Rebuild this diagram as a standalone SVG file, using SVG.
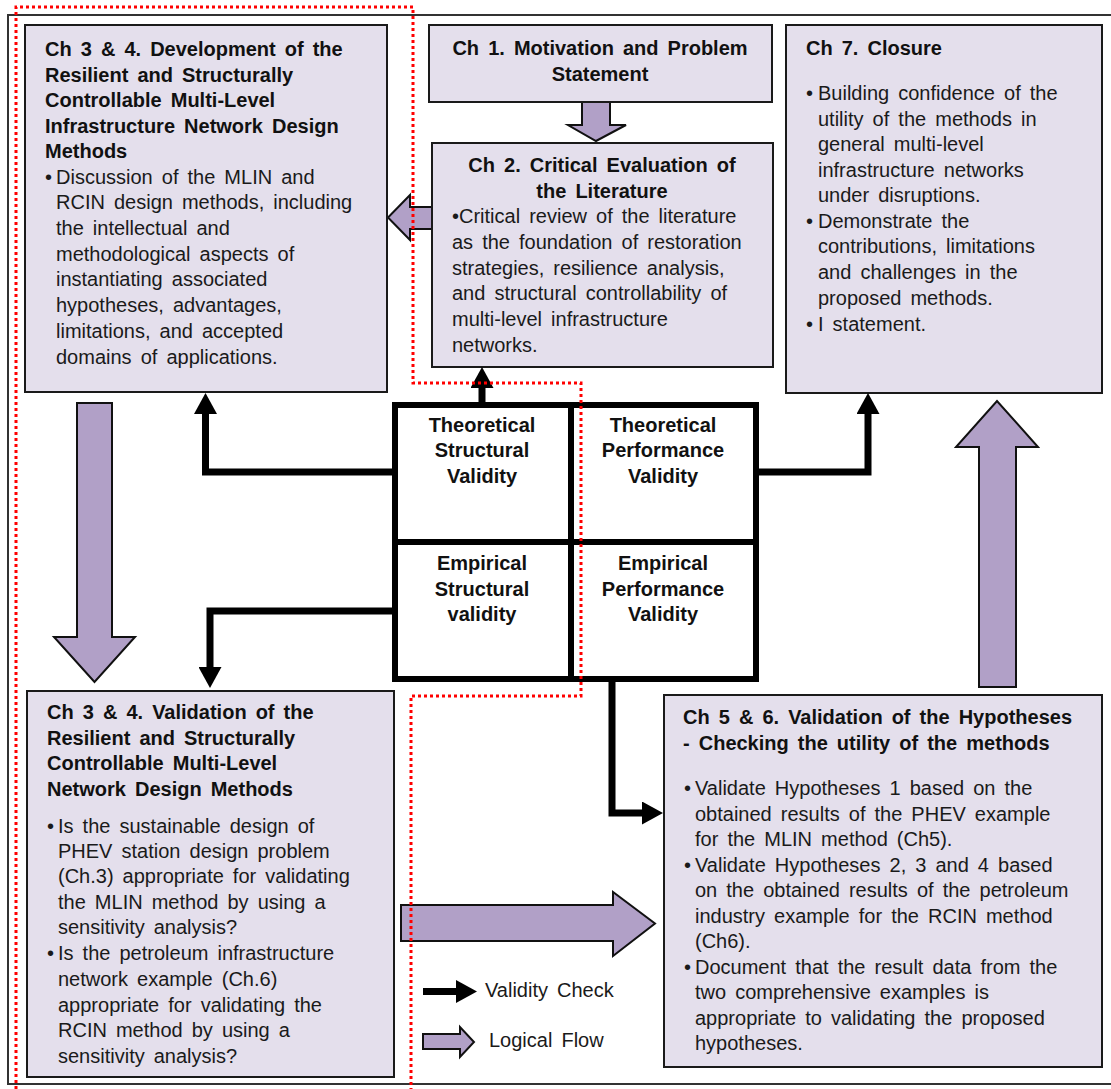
<svg xmlns="http://www.w3.org/2000/svg" width="1111" height="1089" viewBox="0 0 1111 1089">
<style>
.box{fill:#E4DFEC;stroke:#1a1a1a;stroke-width:2}
.flow{fill:#B1A0C7;stroke:#111;stroke-width:2;stroke-linejoin:miter}
.conn{fill:none;stroke:#000;stroke-width:7;stroke-linejoin:miter}
.cell{fill:#fff;stroke:#000;stroke-width:6}
text{font-family:"Liberation Sans",Arial,sans-serif;font-size:20px;word-spacing:3.5px;fill:#1a1a1a}
.b{font-weight:bold;fill:#111}
.c{text-anchor:middle}
.red{fill:none;stroke:#FF0000;stroke-width:3;stroke-dasharray:3 3}
</style>
<defs>
<marker id="ah" viewBox="0 0 21 23" markerWidth="21" markerHeight="23" refX="0" refY="11.5" orient="auto" markerUnits="userSpaceOnUse">
<path d="M0,0 L21,11.5 L0,23 z" fill="#000"/>
</marker>
</defs>
<rect x="0" y="0" width="1111" height="1089" fill="#fff"/>
<rect x="8" y="15" width="1112" height="1069" fill="none" stroke="#333" stroke-width="2"/>

<g id="flow-arrows">
<polygon class="flow" points="582,102 610,102 610,125 626,125 596,141 568,125 582,125"/>
<polygon class="flow" points="432,207 410,207 410,195 388,217.5 410,240 410,229 432,229"/>
<polygon class="flow" points="77,403 112,403 112,637 135,637 94.5,682 54,637 77,637"/>
<polygon class="flow" points="979,687 1016,687 1016,447 1038,447 997,401 956,447 979,447"/>
<polygon class="flow" points="401,905 613,905 613,892 655,923.5 613,956 613,941 401,941"/>
</g>

<g id="ch34dev">
<rect class="box" x="25" y="25" width="362" height="367"/>
<text class="b" x="45" y="56">Ch 3 &amp; 4. Development of the</text>
<text class="b" x="45" y="82">Resilient and Structurally</text>
<text class="b" x="45" y="107">Controllable Multi-Level</text>
<text class="b" x="45" y="133">Infrastructure Network Design</text>
<text class="b" x="45" y="158">Methods</text>
<text x="45" y="184">•</text>
<text x="56" y="184">Discussion of the MLIN and</text>
<text x="56" y="209">RCIN design methods, including</text>
<text x="56" y="235">the intellectual and</text>
<text x="56" y="261">methodological aspects of</text>
<text x="56" y="286">instantiating associated</text>
<text x="56" y="312">hypotheses, advantages,</text>
<text x="56" y="338">limitations, and accepted</text>
<text x="56" y="364">domains of applications.</text>
</g>

<g id="ch1">
<rect class="box" x="429" y="25" width="343" height="77"/>
<text class="b c" x="600" y="55">Ch 1. Motivation and Problem</text>
<text class="b c" x="600" y="81">Statement</text>
</g>

<g id="ch2">
<rect class="box" x="432" y="143" width="341" height="224"/>
<text class="b c" x="602" y="172">Ch 2. Critical Evaluation of</text>
<text class="b c" x="602" y="198">the Literature</text>
<text x="452" y="223">•Critical review of the literature</text>
<text x="452" y="249">as the foundation of restoration</text>
<text x="452" y="275">strategies, resilience analysis,</text>
<text x="452" y="300">and structural controllability of</text>
<text x="452" y="326">multi-level infrastructure</text>
<text x="452" y="352">networks.</text>
</g>

<g id="ch7">
<rect class="box" x="786" y="25" width="316" height="368"/>
<text class="b" x="806" y="55">Ch 7. Closure</text>
<text x="806" y="100">•</text>
<text x="818" y="100">Building confidence of the</text>
<text x="818" y="126">utility of the methods in</text>
<text x="818" y="151">general multi-level</text>
<text x="818" y="177">infrastructure networks</text>
<text x="818" y="202">under disruptions.</text>
<text x="806" y="228">•</text>
<text x="818" y="228">Demonstrate the</text>
<text x="818" y="253">contributions, limitations</text>
<text x="818" y="279">and challenges in the</text>
<text x="818" y="305">proposed methods.</text>
<text x="806" y="331">•</text>
<text x="818" y="331">I statement.</text>
</g>

<g id="validity-grid">
<rect class="cell" x="395" y="405" width="176" height="137"/>
<rect class="cell" x="571" y="405" width="185" height="137"/>
<rect class="cell" x="395" y="542" width="176" height="137"/>
<rect class="cell" x="571" y="542" width="185" height="137"/>
<text class="b c" x="482" y="432">Theoretical</text>
<text class="b c" x="482" y="457">Structural</text>
<text class="b c" x="482" y="483">Validity</text>
<text class="b c" x="663" y="432">Theoretical</text>
<text class="b c" x="663" y="457">Performance</text>
<text class="b c" x="663" y="483">Validity</text>
<text class="b c" x="482" y="570">Empirical</text>
<text class="b c" x="482" y="596">Structural</text>
<text class="b c" x="482" y="621">validity</text>
<text class="b c" x="663" y="570">Empirical</text>
<text class="b c" x="663" y="596">Performance</text>
<text class="b c" x="663" y="621">Validity</text>
</g>

<g id="ch34val">
<rect class="box" x="27" y="691" width="367" height="386"/>
<text class="b" x="47" y="719">Ch 3 &amp; 4. Validation of the</text>
<text class="b" x="47" y="745">Resilient and Structurally</text>
<text class="b" x="47" y="770">Controllable Multi-Level</text>
<text class="b" x="47" y="796">Network Design Methods</text>
<text x="47" y="833">•</text>
<text x="58" y="833">Is the sustainable design of</text>
<text x="58" y="858">PHEV station design problem</text>
<text x="58" y="883">(Ch.3) appropriate for validating</text>
<text x="58" y="909">the MLIN method by using a</text>
<text x="58" y="934">sensitivity analysis?</text>
<text x="47" y="960">•</text>
<text x="58" y="960">Is the petroleum infrastructure</text>
<text x="58" y="986">network example (Ch.6)</text>
<text x="58" y="1012">appropriate for validating the</text>
<text x="58" y="1037">RCIN method by using a</text>
<text x="58" y="1063">sensitivity analysis?</text>
</g>

<g id="ch56">
<rect class="box" x="664" y="695" width="438" height="372"/>
<text class="b" x="683" y="724">Ch 5 &amp; 6. Validation of the Hypotheses</text>
<text class="b" x="683" y="750">- Checking the utility of the methods</text>
<text x="684" y="795">•</text>
<text x="695" y="795">Validate Hypotheses 1 based on the</text>
<text x="695" y="821">obtained results of the PHEV example</text>
<text x="695" y="846">for the MLIN method (Ch5).</text>
<text x="684" y="872">•</text>
<text x="695" y="872">Validate Hypotheses 2, 3 and 4 based</text>
<text x="695" y="897">on the obtained results of the petroleum</text>
<text x="695" y="923">industry example for the RCIN method</text>
<text x="695" y="948">(Ch6).</text>
<text x="684" y="974">•</text>
<text x="695" y="974">Document that the result data from the</text>
<text x="695" y="999">two comprehensive examples is</text>
<text x="695" y="1025">appropriate to validating the proposed</text>
<text x="695" y="1050">hypotheses.</text>
</g>

<g id="connectors">
<path class="conn" d="M482,402 V388" marker-end="url(#ah)"/>
<path class="conn" d="M392,472 H205.5 V414" marker-end="url(#ah)"/>
<path class="conn" d="M392,611 H210 V667" marker-end="url(#ah)"/>
<path class="conn" d="M759,472 H868 V414" marker-end="url(#ah)"/>
<path class="conn" d="M612,682 V813 H642" marker-end="url(#ah)"/>
</g>

<g id="legend">
<path class="conn" d="M423,991.5 H456" stroke-width="9" marker-end="url(#ah)"/>
<text x="485" y="997">Validity Check</text>
<polygon class="flow" points="423,1034 460,1034 460,1027 474,1042 460,1057 460,1049 423,1049"/>
<text x="489" y="1047">Logical Flow</text>
</g>

<path class="red" d="M16,1089 V7 H413 V383 H581 V696 H411 V1089"/>
</svg>
